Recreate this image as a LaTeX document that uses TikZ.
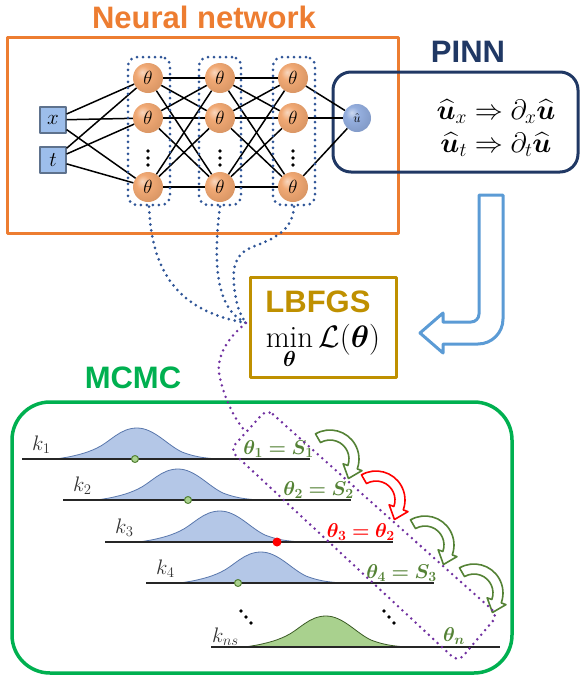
\RequirePackage{fix-cm}
\documentclass[tikz,border=0pt]{standalone}
\usepackage{amsmath}
\usepackage{fontspec}
\newfontfamily\sansb{Liberation Sans}
\usepackage{bm}
\usetikzlibrary{calc}
\definecolor{nnorange}{RGB}{237,125,49}
\definecolor{navy}{RGB}{32,56,100}
\definecolor{gold}{RGB}{191,144,0}
\definecolor{mcgreen}{RGB}{0,176,80}
\definecolor{olive}{RGB}{84,130,53}
\definecolor{arrblue}{RGB}{91,155,213}
\definecolor{dotblue}{RGB}{47,85,151}
\definecolor{dotpurple}{RGB}{112,48,160}
\definecolor{bellblue}{RGB}{180,199,231}
\definecolor{bellgreen}{RGB}{169,209,142}
\definecolor{ballor}{RGB}{240,165,110}
\definecolor{ballbl}{RGB}{143,170,220}
\definecolor{inblue}{RGB}{157,190,235}
\pgfdeclareradialshading{orball}{\pgfpoint{-10bp}{10bp}}{color(0bp)=(ballor!45!white); color(12bp)=(ballor!95!white); color(32bp)=(ballor!90!black); color(50bp)=(ballor!70!black); color(60bp)=(ballor!60!black)}
\pgfdeclareradialshading{blball}{\pgfpoint{-10bp}{10bp}}{color(0bp)=(ballbl!45!white); color(12bp)=(ballbl!95!white); color(32bp)=(ballbl!90!black); color(50bp)=(ballbl!70!black); color(60bp)=(ballbl!60!black)}
\tikzset{
  titletxt/.style={font=\sansb\bfseries\fontsize{31}{36}\selectfont, inner sep=0pt},
  theta/.style={circle, shade, shading=orball, minimum size=30pt, inner sep=0pt, font=\fontsize{19}{20}\selectfont},
  inbox/.style={rectangle, fill=inblue, draw=inblue!60!black, line width=1.2pt, minimum size=26pt, inner sep=0pt, font=\fontsize{21}{22}\selectfont},
  outball/.style={circle, shade, shading=blball, minimum size=28pt, inner sep=0pt, font=\fontsize{13}{14}\selectfont},
  nnedge/.style={black, line width=1.5pt},
  bdots/.style={draw=dotblue, line width=3pt, dash pattern=on 0pt off 6pt, line cap=round},
  pdots/.style={draw=dotpurple, line width=2.8pt, dash pattern=on 0pt off 6pt, line cap=round},
  colbox/.style={bdots, rectangle, rounded corners=9pt, minimum width=42pt, minimum height=148pt},
  baseln/.style={black!85, line width=2pt},
  klab/.style={font=\fontsize{21}{22}\selectfont, inner sep=0pt, anchor=base west, text=black!80},
  thlab/.style={font=\fontsize{20}{22}\selectfont, inner sep=0pt, anchor=base east},
  pinnline/.style={font=\fontsize{28}{30}\selectfont, inner sep=0pt, anchor=base},
  gdot/.style={circle, fill=bellgreen, draw=olive, line width=1pt, minimum size=7pt, inner sep=0pt},
  rdot/.style={circle, fill=red, minimum size=9pt, inner sep=0pt},
  bellshape/.pic={\path[pic actions] (33,0) .. controls (50,-2) and (65,-6) .. (75,-11) .. controls (88,-17) and (98,-31) .. (115,-31) .. controls (132,-31) and (145,-14) .. (160,-7) .. controls (175,-1) and (190,0) .. (205,0) -- cycle;},
  curvarr/.pic={\path[pic actions] (-120:29) arc[start angle=-120,end angle=20,radius=29] -- (20:34) -- (18.45,19.49) -- (20:14) -- (20:19) arc[start angle=20,end angle=-120,radius=19] -- cycle;},
}
\begin{document}
\begin{tikzpicture}[x=1pt,y=-1pt,line join=round]
\useasboundingbox (0,0) rectangle (580,681);
% ---------- Neural network ----------
\node[titletxt, text=nnorange] (nntitle) at (204,17) {Neural network};
\node[draw=nnorange, line width=3pt, minimum width=391pt, minimum height=196pt, inner sep=0pt] (nn) at (202.5,135) {};
% PINN box
\node[titletxt, text=navy] (pinntitle) at (468,52) {PINN};
\node[draw=navy, line width=3pt, rounded corners=18pt, minimum width=245pt, minimum height=100pt, inner sep=0pt] (pinn) at (455.5,122) {};
\node[pinnline] (pinn1) at (496,119) {$\widehat{\bm u}_x \Rightarrow \partial_x\widehat{\bm u}$};
\node[pinnline] (pinn2) at (496,152) {$\widehat{\bm u}_t \Rightarrow \partial_t\widehat{\bm u}$};
% nodes
\node[inbox] (x) at (53,120) {$x$};
\node[inbox] (t) at (53,160) {$t$};
\foreach \c/\cx in {1/148,2/220,3/293}{
  \node[theta] (n\c1) at (\cx,78) {$\theta$};
  \node[theta] (n\c2) at (\cx,118) {$\theta$};
  \node[theta] (n\c3) at (\cx,187) {$\theta$};
  \foreach \dy in {151,158,165} \fill (\cx,\dy) circle[radius=1.8pt];
}
\node[outball] (uhat) at (357,118) {$\hat u$};
\foreach \a in {x,t} \foreach \b in {1,2,3} \draw[nnedge] (\a) -- (n1\b);
\foreach \b in {1,2,3} \foreach \c in {1,2,3} {\draw[nnedge] (n1\b) -- (n2\c); \draw[nnedge] (n2\b) -- (n3\c);}
\foreach \b in {1,2,3} \draw[nnedge] (n3\b) -- (uhat);
\node[colbox] (c1) at (149,131) {};
\node[colbox] (c2) at (220,131) {};
\node[colbox] (c3) at (294,131) {};
% ---------- LBFGS ----------
\node[draw=gold, line width=3pt, minimum width=146pt, minimum height=100pt, inner sep=0pt] (lbfgs) at (323,327) {};
\node[titletxt, text=gold] (lbtitle) at (318,302) {LBFGS};
\node[font=\fontsize{31}{36}\selectfont, anchor=base, inner sep=0pt] (lbmin) at (323,347) {$\displaystyle\min_{\bm\theta}\mathcal{L}(\bm\theta)$};
\coordinate (meet) at (246,323);
\draw[bdots] (c1.south) .. controls (152,280) and (185,312) .. (meet);
\draw[bdots] (c2.south) .. controls (212,270) and (218,310) .. (meet);
\draw[bdots] (c3.south) .. controls (293,232) and (270,240) .. (255,246) .. controls (238,252) and (232,262) .. (234,285) .. controls (236,305) and (240,315) .. (meet);
% hollow blue arrow
\draw[arrblue, line width=3pt, fill=white] (479,195) -- (503,195) -- (503,319) arc[start angle=0,end angle=90,radius=25] -- (443,344) -- (443,353) -- (420,333) -- (443,313) -- (443,322) -- (471,322) arc[start angle=90,end angle=0,radius=8] -- cycle;
% ---------- MCMC ----------
\node[titletxt, text=mcgreen] (mctitle) at (133,378) {MCMC};
\node[draw=mcgreen, line width=3.5pt, rounded corners=38pt, minimum width=500pt, minimum height=271pt, inner sep=0pt] (mc) at (262,537.5) {};
% distributions
\pic[fill=bellblue, draw=dotblue!80, line width=0.8pt] at (22,459) {bellshape};
\pic[fill=bellblue, draw=dotblue!80, line width=0.8pt] at (63,500) {bellshape};
\pic[fill=bellblue, draw=dotblue!80, line width=0.8pt] at (105,542) {bellshape};
\pic[fill=bellblue, draw=dotblue!80, line width=0.8pt] at (146,583) {bellshape};
\pic[fill=bellgreen, draw=olive!70!black, line width=0.8pt] at (211,647) {bellshape};
\draw[baseln] (22,459) -- ++(288,0);
\draw[baseln] (63,500) -- ++(288,0);
\draw[baseln] (105,542) -- ++(288,0);
\draw[baseln] (146,583) -- ++(288,0);
\draw[baseln] (211,647) -- ++(289,0);
\node[gdot] (d1) at (135,459) {};
\node[gdot] (d2) at (188,500) {};
\node[rdot] (d3) at (277,542) {};
\node[gdot] (d4) at (238,583) {};
\node[klab] (k1) at (32,450) {$k_1$};
\node[klab] (k2) at (73,491) {$k_2$};
\node[klab] (k3) at (115,533) {$k_3$};
\node[klab] (k4) at (156,574) {$k_4$};
\node[klab] (kn) at (212,642) {$k_{ns}$};
\node[thlab, text=olive] (th1) at (314,454) {$\bm{\theta_1 = S_1}$};
\node[thlab, text=olive] (th2) at (354,495) {$\bm{\theta_2 = S_2}$};
\node[thlab, text=red] (th3) at (395,537) {$\bm{\theta_3 = \theta_2}$};
\node[thlab, text=olive] (th4) at (437,578) {$\bm{\theta_4 = S_3}$};
\node[thlab, text=olive, anchor=base west] (thn) at (443,641) {$\bm{\theta_n}$};
\foreach \p in {(241,611),(246,617),(251,623),(384,611),(389,617),(394,623)} \fill \p circle[radius=1.8pt];
% curved arrows
\pic[fill=white, draw=olive, line width=1.6pt] at (330,459) {curvarr};
\pic[fill=white, draw=red, line width=1.6pt] at (376,500) {curvarr};
\pic[fill=white, draw=olive, line width=1.6pt] at (425,545) {curvarr};
\pic[fill=white, draw=olive, line width=1.6pt] at (474,593) {curvarr};
% purple selection
\coordinate (pjoin) at (246,432);
\draw[pdots, rounded corners=8pt] (267,409) -- (498,615) -- (458,662) -- (230,450) -- cycle;
\draw[pdots] (meet) .. controls (225,340) and (215,360) .. (220,378) .. controls (225,400) and (235,420) .. (pjoin);
\end{tikzpicture}
\end{document}
